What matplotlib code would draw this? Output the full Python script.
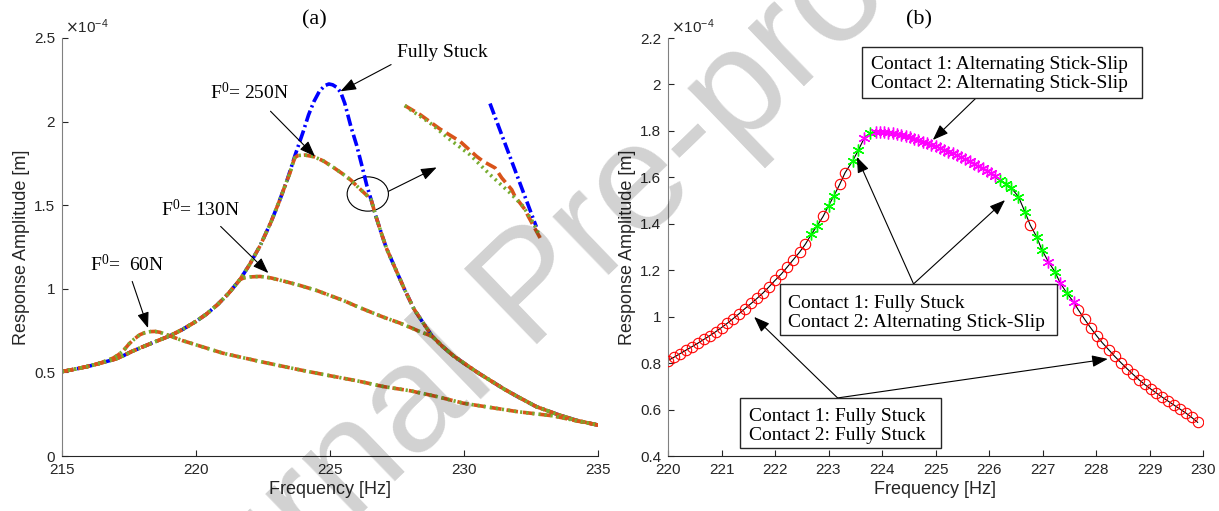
import matplotlib
matplotlib.use('Agg')
import matplotlib.pyplot as plt
from matplotlib.patches import Ellipse, Rectangle

plt.rcParams['font.family'] = ['Liberation Sans', 'DejaVu Sans']
plt.rcParams['mathtext.fontset'] = 'custom'

# ---------------- panel (a) data ----------------
# Fully stuck (linear) response
lin_f = [215, 215.5, 216, 216.42, 217, 217.29, 217.6, 218, 218.5, 219, 219.5, 220, 220.4, 220.8, 221.2,
         221.64, 222.0, 222.4, 222.8, 223.1, 223.4, 223.7, 224.0, 224.2, 224.4, 224.6, 224.8, 224.96,
         225.1, 225.25, 225.4, 225.55, 225.78, 226.0, 226.2, 226.37, 226.54, 226.7, 226.9, 227.1,
         227.44, 227.8, 228.13, 228.5, 228.82, 229.2, 229.6, 230.0, 230.5, 231.0, 231.3, 231.5, 232.0,
         232.7, 233.5, 234.2, 235]
lin_A = [0.505, 0.52, 0.537, 0.555, 0.58, 0.60, 0.625, 0.652, 0.685, 0.717, 0.757, 0.805, 0.85, 0.905, 0.97,
         1.055, 1.145, 1.26, 1.40, 1.52, 1.65, 1.80, 1.94, 2.04, 2.12, 2.18, 2.215, 2.225,
         2.22, 2.205, 2.175, 2.11, 1.97, 1.855, 1.73, 1.62, 1.53, 1.44, 1.34, 1.245,
         1.12, 0.99, 0.88, 0.79, 0.715, 0.655, 0.60, 0.555, 0.50, 0.45, 0.42, 0.40, 0.355,
         0.295, 0.248, 0.213, 0.185]

# F0 = 250 N
f250_f = [215, 215.5, 216, 216.42, 217, 217.29, 217.6, 218, 218.5, 219, 219.5, 220, 220.4, 220.8, 221.2,
          221.64, 222.0, 222.4, 222.8, 223.1, 223.4, 223.5, 223.6, 223.69, 223.8, 224.06, 224.4, 224.75,
          225.09, 225.45, 225.78, 226.0, 226.2, 226.4, 226.54, 226.7, 226.9, 227.1,
          227.44, 227.8, 228.13, 228.5, 228.82, 229.2, 229.6, 230.0, 230.5, 231.0, 231.3, 231.5, 232.0,
          232.7, 233.5, 234.2, 235]
f250_A = [0.505, 0.52, 0.537, 0.555, 0.58, 0.60, 0.625, 0.652, 0.685, 0.717, 0.757, 0.805, 0.85, 0.905, 0.97,
          1.055, 1.145, 1.26, 1.40, 1.52, 1.65, 1.69, 1.745, 1.785, 1.797, 1.80, 1.79, 1.765,
          1.73, 1.69, 1.65, 1.615, 1.585, 1.555, 1.53, 1.44, 1.34, 1.245,
          1.12, 0.99, 0.88, 0.79, 0.715, 0.655, 0.60, 0.555, 0.50, 0.45, 0.42, 0.40, 0.355,
          0.295, 0.248, 0.213, 0.185]

# F0 = 130 N
f130_f = [215, 215.5, 216, 216.42, 217, 217.29, 217.6, 218, 218.5, 219, 219.5, 220, 220.4, 220.8, 221.2,
          221.64, 221.8, 222.0, 222.39, 222.8, 223.3, 223.88, 224.5, 225.0, 225.5, 226.0, 226.5, 227.0,
          227.61, 228.3, 228.82, 229.2, 229.6, 230.0, 230.5, 231.0, 231.3, 231.5, 232.0,
          232.7, 233.5, 234.2, 235]
f130_A = [0.505, 0.52, 0.537, 0.555, 0.58, 0.60, 0.625, 0.652, 0.685, 0.717, 0.757, 0.805, 0.85, 0.905, 0.97,
          1.055, 1.066, 1.071, 1.074, 1.065, 1.045, 1.02, 0.99, 0.96, 0.93, 0.895, 0.862, 0.83,
          0.795, 0.748, 0.715, 0.655, 0.60, 0.555, 0.50, 0.45, 0.42, 0.40, 0.355,
          0.295, 0.248, 0.213, 0.185]

# F0 = 60 N
f60_f = [215, 215.5, 216, 216.42, 216.9, 217.1, 217.29, 217.5, 217.7, 217.9, 218.1, 218.3, 218.47, 218.65,
         218.8, 219.03, 219.5, 220.0, 221.0, 222.39, 223.88, 225.0, 226.0, 227.0, 228.0, 229.0, 230.0,
         231.0, 232.0, 233.33, 234.2, 235]
f60_A = [0.505, 0.52, 0.537, 0.555, 0.585, 0.605, 0.63, 0.67, 0.70, 0.725, 0.738, 0.744, 0.745, 0.74,
         0.732, 0.718, 0.69, 0.665, 0.615, 0.565, 0.515, 0.48, 0.45, 0.415, 0.39, 0.355, 0.315,
         0.29, 0.265, 0.24, 0.21, 0.185]

# magnified detail (drawn in data space)
zoom_lin_f = [230.97, 232.7]
zoom_lin_A = [2.108, 1.37]
zoom_or_f = [227.79, 228.36, 229.1, 229.85, 230.47, 230.72, 231.16, 231.41, 231.78, 231.9, 232.28, 232.4, 232.84]
zoom_or_A = [2.096, 2.042, 1.956, 1.882, 1.792, 1.762, 1.723, 1.663, 1.593, 1.553, 1.473, 1.433, 1.304]
zoom_gr_f = [227.79, 227.99, 228.73, 229.48, 230.22, 230.97, 231.72, 232.21, 232.59, 232.84]
zoom_gr_A = [2.096, 2.072, 1.992, 1.892, 1.802, 1.683, 1.573, 1.493, 1.393, 1.313]

# ---------------- panel (b) data ----------------
# state: 0 = both fully stuck, 1 = contact 2 alternating, 2 = both alternating
b_f = [220.00, 220.11, 220.22, 220.33, 220.45, 220.56, 220.67, 220.78, 220.89, 221.00, 221.11, 221.22,
       221.33, 221.44, 221.56, 221.67, 221.78, 221.89, 222.00, 222.12, 222.23, 222.34, 222.46, 222.57,
       222.68, 222.79, 222.90, 223.00, 223.10, 223.21, 223.31, 223.45, 223.56, 223.67, 223.78,
       223.88, 223.96, 224.04, 224.12, 224.20, 224.28, 224.36, 224.44, 224.52, 224.60, 224.68, 224.76,
       224.84, 224.92, 225.00, 225.08, 225.16, 225.24, 225.32, 225.40, 225.48, 225.56, 225.64, 225.72,
       225.80, 225.88, 225.96, 226.04, 226.12,
       226.21, 226.31, 226.42, 226.55, 226.67, 226.77, 226.89, 226.99, 227.11, 227.23, 227.33, 227.45,
       227.58, 227.67, 227.79, 227.90, 228.01, 228.12, 228.24, 228.35, 228.47, 228.58, 228.69, 228.80,
       228.91, 229.02, 229.13, 229.24, 229.35, 229.46, 229.57, 229.68, 229.79, 229.90]
b_A = [0.811, 0.825, 0.840, 0.855, 0.871, 0.886, 0.902, 0.918, 0.935, 0.953, 0.972, 0.992,
       1.013, 1.035, 1.058, 1.080, 1.103, 1.129, 1.156, 1.184, 1.214, 1.245, 1.278, 1.313,
       1.355, 1.392, 1.432, 1.477, 1.520, 1.570, 1.620, 1.670, 1.718, 1.770, 1.790,
       1.795, 1.797, 1.796, 1.793, 1.790, 1.786, 1.782, 1.777, 1.772, 1.766, 1.760, 1.754,
       1.748, 1.741, 1.734, 1.727, 1.719, 1.711, 1.703, 1.695, 1.687, 1.678, 1.669, 1.659,
       1.649, 1.639, 1.628, 1.617, 1.606,
       1.589, 1.572, 1.553, 1.517, 1.452, 1.395, 1.344, 1.287, 1.237, 1.194, 1.146, 1.103,
       1.064, 1.029, 0.988, 0.952, 0.918, 0.887, 0.857, 0.829, 0.801, 0.776, 0.752, 0.729,
       0.708, 0.689, 0.671, 0.653, 0.636, 0.619, 0.602, 0.585, 0.566, 0.545]
b_state = [0] * 24 + [1, 1, 0, 1, 1, 0, 0, 1, 1, 2, 1] + [2] * 29 + \
          [1, 1, 1, 1, 1, 0, 1, 1, 2, 1, 2, 1, 2] + [0] * 21

# ---------------- figure ----------------
W, H = 1219, 511
fig = plt.figure(figsize=(W / 100, H / 100), dpi=100)
axL = fig.add_axes([62 / W, 1 - 456 / H, (598 - 62) / W, (456 - 38) / H])
axR = fig.add_axes([668 / W, 1 - 456 / H, (1203 - 668) / W, (456 - 38) / H])

BLUE = (0, 0, 1)
ORANGE = '#D95319'
GREEN = '#77AC30'
LW = 2.6
blue_ls = (0, (3.2, 1.0, 0.6, 1.0))
or_ls = (0, (3.2, 1.4))
gr_ls = (0, (0.6, 1.1))

axL.plot(lin_f, lin_A, color=BLUE, lw=LW, ls=blue_ls)
for ff, aa in [(f250_f, f250_A), (f130_f, f130_A), (f60_f, f60_A)]:
    axL.plot(ff, aa, color=ORANGE, lw=LW, ls=or_ls)
    axL.plot(ff, aa, color=GREEN, lw=LW, ls=gr_ls)
axL.plot(zoom_lin_f, zoom_lin_A, color=BLUE, lw=LW, ls=blue_ls)
axL.plot(zoom_or_f, zoom_or_A, color=ORANGE, lw=LW, ls=or_ls)
axL.plot(zoom_gr_f, zoom_gr_A, color=GREEN, lw=LW, ls=gr_ls)

serif = ['Liberation Serif', 'DejaVu Serif']
arrow_kw = dict(arrowstyle='-|>,head_length=0.8,head_width=0.3', lw=0.8, color='black',
                shrinkA=0, shrinkB=0, mutation_scale=12)

def arrow(ax, start, end):
    ax.annotate('', xy=end, xytext=start, arrowprops=arrow_kw)

axL.text(227.5, 2.413, 'Fully Stuck', family=serif, fontsize=14, va='center', ha='left')
arrow(axL, (227.28, 2.341), (225.39, 2.181))
axL.text(220.52, 2.174, r'F$\mathregular{^0}$= 250N', family=serif, fontsize=14, va='center', ha='left')
arrow(axL, (222.78, 2.062), (224.44, 1.792))
axL.text(218.71, 1.473, r'F$\mathregular{^0}$= 130N', family=serif, fontsize=14, va='center', ha='left')
arrow(axL, (220.92, 1.373), (222.70, 1.094))
axL.text(216.03, 1.144, r'F$\mathregular{^0}$=  60N', family=serif, fontsize=14, va='center', ha='left')
arrow(axL, (217.62, 1.044), (218.21, 0.765))
axL.add_patch(Ellipse((226.41, 1.567), 1.54, 0.205, fill=False, ec='black', lw=0.8))
arrow(axL, (227.18, 1.583), (228.98, 1.726))

# panel b
axR.plot(b_f, b_A, color='black', lw=0.8, zorder=2)
star = (6, 2, 0)
for st, kw in [(0, dict(marker='o', ms=7.5, mfc='none', mec='red', mew=0.8)),
               (1, dict(marker=star, ms=8.5, mec='#00FF00', mfc='#00FF00', mew=1.0)),
               (2, dict(marker=star, ms=8.5, mec='#FF00FF', mfc='#FF00FF', mew=1.0))]:
    xs = [f for f, s in zip(b_f, b_state) if s == st]
    ys = [a for a, s in zip(b_A, b_state) if s == st]
    axR.plot(xs, ys, ls='none', zorder=3, **kw)

def boxed(ax, x0, x1, y0, y1, tx, ty, txt):
    ax.add_patch(Rectangle((x0, y0), x1 - x0, y1 - y0, fc='white', ec='#262626', lw=1.0, zorder=5))
    ax.text(tx, ty, txt, family=serif, fontsize=14, ha='left', va='center', linespacing=1.15, zorder=6)

boxed(axR, 223.626, 228.86, 1.942, 2.162, 223.79, 2.043,
      'Contact 1: Alternating Stick-Slip\nContact 2: Alternating Stick-Slip')
arrow(axR, (225.76, 1.942), (224.95, 1.761))
boxed(axR, 222.093, 227.271, 0.921, 1.141, 222.243, 1.017,
      'Contact 1: Fully Stuck\nContact 2: Alternating Stick-Slip')
arrow(axR, (224.59, 1.141), (223.53, 1.688))
arrow(axR, (224.59, 1.141), (226.30, 1.502))
boxed(axR, 221.346, 225.103, 0.434, 0.650, 221.52, 0.528,
      'Contact 1: Fully Stuck\nContact 2: Fully Stuck')
arrow(axR, (223.17, 0.650), (221.61, 0.999))
arrow(axR, (223.17, 0.650), (228.22, 0.818))

# axes styling
def style(ax, xlim, ylim, xticks, yticks, ylabels):
    ax.set_xlim(*xlim)
    ax.set_ylim(*ylim)
    ax.set_xticks(xticks)
    ax.set_xticklabels([str(t) for t in xticks])
    ax.set_yticks(yticks)
    ax.set_yticklabels(ylabels)
    ax.spines['top'].set_visible(False)
    ax.spines['right'].set_visible(False)
    ax.spines['left'].set_color('#808080')
    ax.spines['bottom'].set_color('#262626')
    ax.tick_params(direction='in', length=4, width=0.8, colors='#262626', labelsize=11, pad=5)
    ax.set_facecolor('none')
    ax.set_xlabel('Frequency [Hz]', fontsize=13, color='#262626', labelpad=3)
    ax.set_ylabel('Response Amplitude [m]', fontsize=13, color='#262626', labelpad=3)
    ax.text(0.005, 1.005, r'$\times$10$\mathregular{^{-4}}$', transform=ax.transAxes,
            fontsize=11, color='#262626', ha='left', va='bottom')

style(axL, (215, 235), (0, 2.5), [215, 220, 225, 230, 235], [0, 0.5, 1, 1.5, 2, 2.5],
      ['0', '0.5', '1', '1.5', '2', '2.5'])
style(axR, (220, 230), (0.4, 2.2), list(range(220, 231)),
      [0.4, 0.6, 0.8, 1.0, 1.2, 1.4, 1.6, 1.8, 2.0, 2.2],
      ['0.4', '0.6', '0.8', '1', '1.2', '1.4', '1.6', '1.8', '2', '2.2'])

fig.text(314 / W, 1 - 20 / H, '(a)', family=serif, fontsize=16, ha='center', va='center')
fig.text(919 / W, 1 - 20 / H, '(b)', family=serif, fontsize=16, ha='center', va='center')

# watermark
fig.text(535 / W, 1 - 292 / H, 'Journal Pre-proof', fontsize=110, color='black', alpha=0.18,
         rotation=44, rotation_mode='anchor', ha='center', va='center', zorder=10)

fig.savefig('out.png', dpi=100)
